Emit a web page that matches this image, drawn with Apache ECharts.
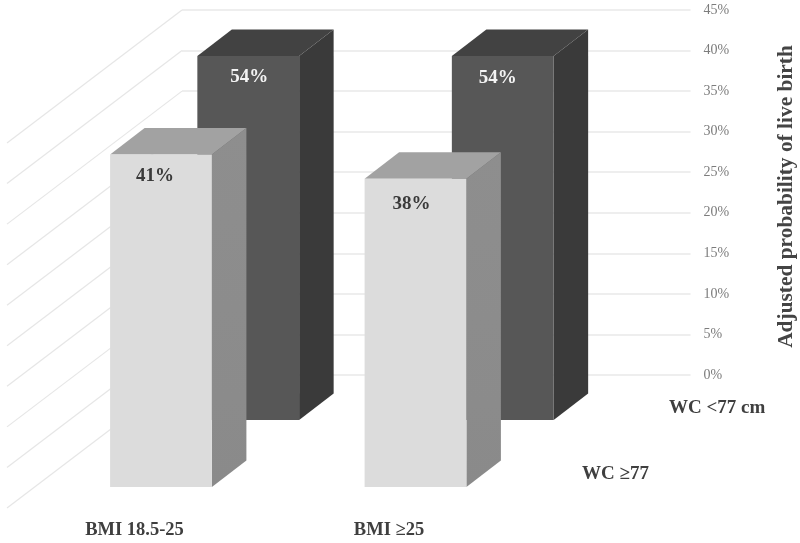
<!DOCTYPE html>
<html>
<head>
<meta charset="utf-8">
<style>html,body{margin:0;padding:0;background:#fff}#c{width:800px;height:543px}</style>
<script src="https://cdn.jsdelivr.net/npm/echarts@6/dist/echarts.min.js"></script>
</head>
<body>
<div id="c"></div>
<script>
const categories = ['BMI 18.5-25', 'BMI \u226525'];
const wcLow = [54, 54];   // WC <77 cm, back row
const wcHigh = [41, 38];  // WC >=77, front row
const wallTicks = [0, 5, 10, 15, 20, 25, 30, 35, 40, 45];
const axisMax = 45;
const axisTitle = 'Adjusted probability of live birth';
const rowNames = ['WC <77 cm', 'WC \u226577'];

const FONT = '"Liberation Serif", serif';
const DEPTH = [34.5, -26.5];
const WALL_DIAG = [-175, 133];

function box(colors, labelColor, labelShift) {
  return function (params, api) {
    const i = api.value(0), v = api.value(1);
    const w = api.size([1, 0])[0] * 0.4;
    const top = api.coord([i, Math.min(v, axisMax)]);
    const bot = api.coord([i, 0]);
    const l = top[0] - w / 2, r = top[0] + w / 2;
    const dx = DEPTH[0], dy = DEPTH[1];
    return {
      type: 'group',
      children: [
        { type: 'polygon', shape: { points: [[r, top[1]], [r + dx, top[1] + dy], [r + dx, bot[1] + dy], [r, bot[1]]] },
          style: { fill: colors.side } },
        { type: 'polygon', shape: { points: [[l, top[1]], [l + dx, top[1] + dy], [r + dx, top[1] + dy], [r, top[1]]] },
          style: { fill: colors.top } },
        { type: 'rect', shape: { x: l, y: top[1], width: w, height: bot[1] - top[1] },
          style: { fill: colors.front } },
        { type: 'text', style: { text: v + '%', x: top[0] + labelShift[i][0], y: top[1] + labelShift[i][1],
            align: 'center', verticalAlign: 'middle', fill: labelColor,
            font: 'bold 19px ' + FONT } }
      ]
    };
  };
}

const chart = echarts.init(document.getElementById('c'), null, { renderer: 'canvas' });
chart.setOption({
  animation: false,
  backgroundColor: '#fff',
  grid: [
    { left: 182, top: 10, width: 508.5, height: 365, outerBoundsMode: 'none' },
    { left: 121, top: 56, width: 509, height: 364, outerBoundsMode: 'none' },
    { left: 33.75, top: 122, width: 509, height: 365, outerBoundsMode: 'none' }
  ],
  xAxis: [
    { gridIndex: 0, type: 'value', min: 0, max: 1, show: false },
    { gridIndex: 1, type: 'category', data: categories, show: false },
    { gridIndex: 2, type: 'category', data: categories,
      axisLine: { show: false }, axisTick: { show: false },
      axisLabel: { margin: 34, padding: [0, 53, 0, 0], color: '#3f3f3f',
        fontFamily: FONT, fontWeight: 'bold', fontSize: 18.5 } }
  ],
  yAxis: [
    { gridIndex: 0, type: 'value', position: 'right', min: 0, max: axisMax, interval: 5,
      axisLine: { show: false }, axisTick: { show: false },
      splitLine: { show: true, lineStyle: { color: '#e8e8e8', width: 1.5 } },
      axisLabel: { formatter: '{value}%', margin: 13, color: '#7c7c7c', fontFamily: FONT, fontSize: 14 },
      name: axisTitle, nameLocation: 'middle', nameRotate: 90, nameGap: 85,
      nameTextStyle: { color: '#444', fontFamily: FONT, fontWeight: 'bold', fontSize: 21.4, padding: [0, 8, 0, 0] } },
    { gridIndex: 1, type: 'value', min: 0, max: axisMax, show: false },
    { gridIndex: 2, type: 'value', min: 0, max: axisMax, show: false }
  ],
  series: [
    { type: 'custom', name: 'wall', xAxisIndex: 0, yAxisIndex: 0, z: 1, silent: true,
      data: wallTicks.map(t => [0, t]),
      renderItem: function (params, api) {
        const p = api.coord([0, api.value(1)]);
        return { type: 'line',
          shape: { x1: p[0], y1: p[1], x2: p[0] + WALL_DIAG[0], y2: p[1] + WALL_DIAG[1] },
          style: { stroke: '#e6e6e6', lineWidth: 1.2 } };
      } },
    { type: 'custom', name: rowNames[0], xAxisIndex: 1, yAxisIndex: 1, z: 2, silent: true,
      data: wcLow.map((v, i) => [i, v]),
      renderItem: box({ front: '#575757', top: '#424242', side: '#3a3a3a' }, '#f4f4f4', [[1, 21.5], [-5, 22]]) },
    { type: 'custom', name: rowNames[1], xAxisIndex: 2, yAxisIndex: 2, z: 3, silent: true,
      data: wcHigh.map((v, i) => [i, v]),
      renderItem: box({ front: '#dcdcdc', top: '#a2a2a2',
        side: { type: 'linear', x: 0, y: 0, x2: 0, y2: 1,
          colorStops: [{ offset: 0, color: '#8e8e8e' }, { offset: 1, color: '#8a8a8a' }] } },
        '#3a3a3a', [[-6, 22], [-4, 25]]) }
  ],
  graphic: [
    { type: 'text', left: 669, top: 399, style: { text: rowNames[0], fill: '#3f3f3f', font: 'bold 19px ' + FONT } },
    { type: 'text', left: 582, top: 465, style: { text: rowNames[1], fill: '#3f3f3f', font: 'bold 19px ' + FONT } }
  ]
});
</script>
</body>
</html>
